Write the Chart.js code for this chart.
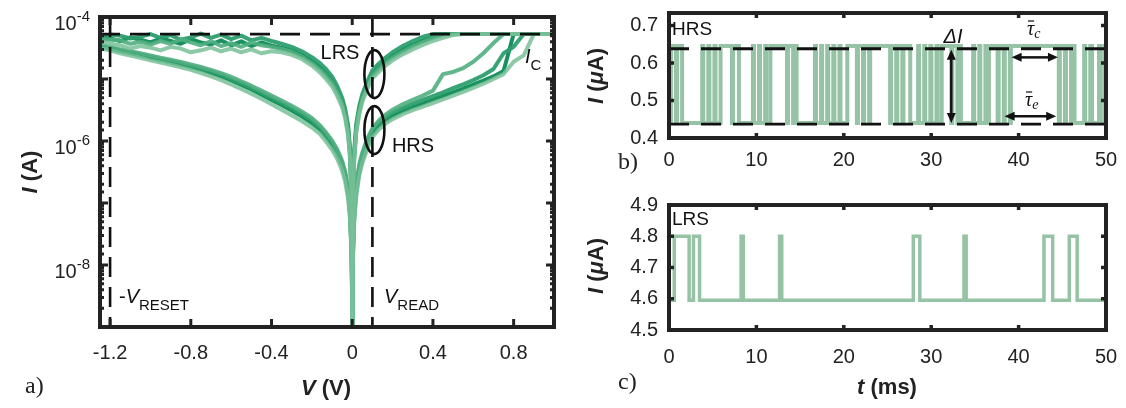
<!DOCTYPE html>
<html><head><meta charset="utf-8">
<script src="https://cdn.jsdelivr.net/npm/chart.js@4.4.1/dist/chart.umd.min.js"></script>
<style>
html,body{margin:0;padding:0;background:#fff;}
body{width:1126px;height:408px;position:relative;overflow:hidden;}
canvas{position:absolute;display:block;}
</style></head>
<body>
<canvas id="ca" width="560" height="408" style="left:0;top:0"></canvas>
<canvas id="cb" width="566" height="200" style="left:560px;top:0"></canvas>
<canvas id="cc" width="566" height="218" style="left:560px;top:190px"></canvas>
<script>
// ---------------- DATA ----------------
const xTicksA = [-1.2, -0.8, -0.4, 0, 0.4, 0.8];
const yLabelExpA = [-4, -6, -8];
const IC = 5.3e-5;
const vRead = 0.1, vReset = -1.2;

const vPos = [0, 0.001, 0.003, 0.01, 0.02, 0.035, 0.05, 0.075, 0.1, 0.13, 0.16, 0.2, 0.25, 0.3, 0.35, 0.4, 0.45, 0.5, 0.55, 0.6, 0.65, 0.7, 0.75, 0.8, 0.85, 0.9, 0.95, 1.0];
const vNeg = [0, -0.001, -0.003, -0.01, -0.02, -0.035, -0.05, -0.075, -0.1, -0.13, -0.16, -0.2, -0.25, -0.3, -0.35, -0.4, -0.45, -0.5, -0.55, -0.6, -0.65, -0.7, -0.75, -0.8, -0.85, -0.9, -0.95, -1.0, -1.05, -1.1, -1.15, -1.2, -1.25];

// set sweeps (HRS, 0 -> +1 V)
const setUp1 = [1e-9, 3e-9, 1e-8, 6e-8, 1.5e-7, 3.2e-7, 5e-7, 8.5e-7, 1.3e-6, 1.7e-6, 2.05e-6, 2.5e-6, 3.0e-6, 3.5e-6, 4.0e-6, 4.6e-6, 5.3e-6, 6.1e-6, 7.0e-6, 8.1e-6, 9.4e-6, 1.1e-5, 1.35e-5, 5.3e-5, 5.3e-5, 5.3e-5, 5.3e-5, 5.3e-5];
const setUp2 = [1e-9, 3.5e-9, 1.2e-8, 7e-8, 1.8e-7, 3.8e-7, 6e-7, 1e-6, 1.5e-6, 1.95e-6, 2.35e-6, 2.9e-6, 3.4e-6, 4.0e-6, 4.6e-6, 5.3e-6, 6.1e-6, 7.1e-6, 8.2e-6, 9.6e-6, 1.15e-5, 1.45e-5, 2.6e-5, 3.3e-5, 5.3e-5, 5.3e-5, 5.3e-5, 5.3e-5];
const setUp3 = [1e-9, 2.5e-9, 9e-9, 5e-8, 1.3e-7, 2.8e-7, 4.4e-7, 7.5e-7, 1.15e-6, 1.5e-6, 1.85e-6, 2.25e-6, 2.7e-6, 3.15e-6, 3.6e-6, 4.1e-6, 4.7e-6, 5.4e-6, 6.2e-6, 7.2e-6, 8.4e-6, 1.0e-5, 1.2e-5, 1.9e-5, 2.4e-5, 5.3e-5, 5.3e-5, 5.3e-5];
const setUp4 = [1e-9, 4e-9, 1.4e-8, 8e-8, 2e-7, 4.2e-7, 6.5e-7, 1.1e-6, 1.6e-6, 2.1e-6, 2.6e-6, 3.2e-6, 3.9e-6, 4.6e-6, 5.4e-6, 6.5e-6, 1.2e-5, 1.3e-5, 1.5e-5, 1.9e-5, 2.6e-5, 3.8e-5, 5.3e-5, 5.3e-5, 5.3e-5, 5.3e-5, 5.3e-5, 5.3e-5];
// LRS return (+1 V -> 0)
const lrsPos1 = [1e-9, 2e-8, 1e-7, 6e-7, 1.6e-6, 3.2e-6, 5e-6, 8e-6, 1.2e-5, 1.5e-5, 1.85e-5, 2.35e-5, 2.95e-5, 3.55e-5, 4.15e-5, 4.75e-5, 5.3e-5, 5.3e-5, 5.3e-5, 5.3e-5, 5.3e-5, 5.3e-5, 5.3e-5, 5.3e-5, 5.3e-5, 5.3e-5, 5.3e-5, 5.3e-5];
const lrsPos2 = [1e-9, 1.6e-8, 8e-8, 5e-7, 1.35e-6, 2.7e-6, 4.3e-6, 6.9e-6, 1.02e-5, 1.28e-5, 1.6e-5, 2.0e-5, 2.5e-5, 3.0e-5, 3.55e-5, 4.1e-5, 4.6e-5, 5.1e-5, 5.3e-5, 5.3e-5, 5.3e-5, 5.3e-5, 5.3e-5, 5.3e-5, 5.3e-5, 5.3e-5, 5.3e-5, 5.3e-5];
const lrsPos3 = [1e-9, 2.5e-8, 1.2e-7, 7e-7, 1.9e-6, 3.7e-6, 5.7e-6, 9.2e-6, 1.38e-5, 1.75e-5, 2.15e-5, 2.7e-5, 3.4e-5, 4.1e-5, 4.8e-5, 5.3e-5, 5.3e-5, 5.3e-5, 5.3e-5, 5.3e-5, 5.3e-5, 5.3e-5, 5.3e-5, 5.3e-5, 5.3e-5, 5.3e-5, 5.3e-5, 5.3e-5];
const lrsPos4 = [1e-9, 1.8e-8, 9e-8, 5.5e-7, 1.5e-6, 3.0e-6, 4.7e-6, 7.5e-6, 1.12e-5, 1.42e-5, 1.75e-5, 2.2e-5, 2.75e-5, 3.35e-5, 3.95e-5, 4.55e-5, 5.1e-5, 5.3e-5, 5.3e-5, 5.3e-5, 5.3e-5, 5.3e-5, 5.3e-5, 5.3e-5, 5.3e-5, 5.3e-5, 5.3e-5, 5.3e-5];
// reset sweeps (LRS, 0 -> -1.25 V)
const reset1 = [1e-9, 2e-8, 1e-7, 6e-7, 1.5e-6, 2.9e-6, 4.4e-6, 6.8e-6, 9.5e-6, 1.25e-5, 1.55e-5, 1.95e-5, 2.45e-5, 2.9e-5, 3.2e-5, 3.45e-5, 3.9e-5, 3.4e-5, 4.05e-5, 3.5e-5, 4.2e-5, 3.6e-5, 3.9e-5, 4.4e-5, 3.7e-5, 4.1e-5, 4.5e-5, 3.9e-5, 4.3e-5, 4.7e-5, 4.1e-5, 4.5e-5, 4.6e-5];
const reset2 = [1e-9, 1.6e-8, 8e-8, 4.8e-7, 1.2e-6, 2.3e-6, 3.5e-6, 5.4e-6, 7.6e-6, 1.0e-5, 1.28e-5, 1.65e-5, 2.1e-5, 2.45e-5, 2.7e-5, 2.8e-5, 2.6e-5, 3.0e-5, 2.7e-5, 3.1e-5, 2.8e-5, 3.2e-5, 2.9e-5, 2.7e-5, 3.1e-5, 3.3e-5, 2.9e-5, 3.2e-5, 3.4e-5, 3.1e-5, 3.5e-5, 3.7e-5, 3.9e-5];
const reset3 = [1e-9, 2.4e-8, 1.2e-7, 7e-7, 1.75e-6, 3.3e-6, 5e-6, 7.8e-6, 1.1e-5, 1.45e-5, 1.8e-5, 2.25e-5, 2.8e-5, 3.3e-5, 3.7e-5, 4.1e-5, 4.6e-5, 4.2e-5, 5.0e-5, 4.4e-5, 5.2e-5, 4.6e-5, 5.4e-5, 4.7e-5, 4.3e-5, 5.1e-5, 4.6e-5, 5.3e-5, 4.8e-5, 4.5e-5, 5.0e-5, 5.2e-5, 4.9e-5];
const reset4 = [1e-9, 1.8e-8, 9e-8, 5.4e-7, 1.35e-6, 2.6e-6, 4e-6, 6.1e-6, 8.6e-6, 1.12e-5, 1.42e-5, 1.8e-5, 2.3e-5, 2.75e-5, 3.05e-5, 3.3e-5, 3.5e-5, 3.9e-5, 3.3e-5, 3.8e-5, 3.4e-5, 4.1e-5, 3.5e-5, 3.9e-5, 4.4e-5, 3.7e-5, 4.1e-5, 3.6e-5, 4.0e-5, 3.7e-5, 4.2e-5, 4.3e-5, 4.4e-5];
// HRS return (-1.25 V -> 0)
const return1 = [1e-9, 4e-9, 1.4e-8, 6e-8, 1.4e-7, 2.7e-7, 4e-7, 6.2e-7, 8.5e-7, 1.15e-6, 1.5e-6, 1.95e-6, 2.5e-6, 3.1e-6, 3.8e-6, 4.6e-6, 5.6e-6, 6.8e-6, 8e-6, 9.5e-6, 1.1e-5, 1.25e-5, 1.4e-5, 1.55e-5, 1.7e-5, 1.85e-5, 2.0e-5, 2.2e-5, 2.4e-5, 2.6e-5, 2.8e-5, 3.1e-5, 3.3e-5];
const return2 = [1e-9, 5e-9, 1.7e-8, 7.2e-8, 1.7e-7, 3.2e-7, 4.8e-7, 7.4e-7, 1.02e-6, 1.38e-6, 1.8e-6, 2.35e-6, 3.0e-6, 3.7e-6, 4.5e-6, 5.4e-6, 6.5e-6, 7.8e-6, 9.2e-6, 1.08e-5, 1.24e-5, 1.4e-5, 1.56e-5, 1.72e-5, 1.88e-5, 2.05e-5, 2.2e-5, 2.4e-5, 2.6e-5, 2.8e-5, 3.0e-5, 3.3e-5, 3.5e-5];
const return3 = [1e-9, 3.5e-9, 1.2e-8, 5e-8, 1.15e-7, 2.2e-7, 3.3e-7, 5.2e-7, 7.2e-7, 9.8e-7, 1.3e-6, 1.65e-6, 2.1e-6, 2.6e-6, 3.2e-6, 3.9e-6, 4.8e-6, 5.8e-6, 6.9e-6, 8.2e-6, 9.6e-6, 1.1e-5, 1.25e-5, 1.4e-5, 1.55e-5, 1.7e-5, 1.85e-5, 2.0e-5, 2.2e-5, 2.4e-5, 2.6e-5, 2.9e-5, 3.1e-5];
const return4 = [1e-9, 4.5e-9, 1.5e-8, 6.6e-8, 1.55e-7, 3e-7, 4.4e-7, 6.8e-7, 9.4e-7, 1.27e-6, 1.65e-6, 2.15e-6, 2.75e-6, 3.4e-6, 4.15e-6, 5e-6, 6e-6, 7.2e-6, 8.6e-6, 1.0e-5, 1.17e-5, 1.33e-5, 1.48e-5, 1.63e-5, 1.8e-5, 1.95e-5, 2.1e-5, 2.3e-5, 2.5e-5, 2.7e-5, 2.9e-5, 3.2e-5, 3.4e-5];

// panel b / c
const tTicks = [0, 10, 20, 30, 40, 50];
const yTicksB = [0.4, 0.5, 0.6, 0.7];
const yTicksC = [4.5, 4.6, 4.7, 4.8, 4.9];
const hrsHigh = 0.645, hrsLow = 0.44, hrsRefHigh = 0.638, hrsRefLow = 0.437;
const hrsSwitch = [
 0.1,0.22, 0.8,0.92, 1.5,
 3.8,3.92, 4.5,4.62, 5.2,5.32, 5.9,
 7.2,7.32, 8.0,
 9.6,9.72, 10.3,10.42, 11.0,11.12, 11.6,
 13.5,13.62, 14.2,14.32, 14.6,
 16.7,16.82, 17.4,17.52, 18.1,18.22, 18.8,18.92, 19.5,19.62, 20.4,
 21.5,21.62, 22.2,22.32, 22.9,23.02,
 25.3,25.42, 26.0,26.12, 26.7,26.82, 27.6,
 28.5,28.62, 29.2,29.32, 29.9,30.02, 30.6,30.72, 31.2,
 32.3,32.42, 33.0,33.12, 33.4,
 34.8,34.92, 35.5,35.62, 36.2,36.32, 36.6,
 37.6,37.72, 38.3,38.42, 39.0,39.12,
 44.6,44.72, 45.3,45.42, 46.0,46.12, 46.4,
 47.5,47.62, 48.2,48.4,
 49.2,49.32, 49.8];
const lrsHigh = 4.8, lrsLow = 4.595;
const lrsSwitch = [0.6, 2.3, 2.8, 3.5, 8.25, 8.5, 12.65, 12.9, 27.95, 28.7, 33.75, 34.0, 42.9, 43.9, 45.8, 46.7];

// ---------------- HELPERS ----------------
const SANS = "'Liberation Sans', Arial, Helvetica, sans-serif";
const SERIF = "'Liberation Serif', 'Times New Roman', serif";
const INK = '#222';
function pts(xs, ys){ return xs.map((v,i)=>({x:v, y:ys[i]})); }
function telegraph(sw, lo, hi, startHigh, tEnd){
  let lvl = startHigh ? hi : lo; const p=[{x:0,y:lvl}];
  for (const t of sw){ p.push({x:t,y:lvl}); lvl = (lvl===hi)?lo:hi; p.push({x:t,y:lvl}); }
  p.push({x:tEnd,y:lvl}); return p;
}
function rich(ctx, parts, x, y, align){
  let w=0; for (const p of parts){ ctx.font=p[1]; w+=ctx.measureText(p[0]).width; }
  let cx = align==='center' ? x-w/2 : (align==='right' ? x-w : x);
  ctx.textAlign='left'; ctx.textBaseline='alphabetic';
  for (const p of parts){ ctx.font=p[1]; ctx.fillText(p[0], cx, y+(p[2]||0)); cx+=ctx.measureText(p[0]).width; }
}
function arrowHead(ctx, x, y, ang, L, W){
  ctx.save(); ctx.translate(x,y); ctx.rotate(ang);
  ctx.beginPath(); ctx.moveTo(0,0); ctx.lineTo(-L, W/2); ctx.lineTo(-L,-W/2); ctx.closePath(); ctx.fill(); ctx.restore();
}
function dblArrow(ctx, x1,y1,x2,y2){
  const ang=Math.atan2(y2-y1,x2-x1), L=10, W=9;
  ctx.beginPath(); ctx.moveTo(x1+Math.cos(ang)*L*0.8, y1+Math.sin(ang)*L*0.8);
  ctx.lineTo(x2-Math.cos(ang)*L*0.8, y2-Math.sin(ang)*L*0.8); ctx.stroke();
  arrowHead(ctx,x2,y2,ang,L,W); arrowHead(ctx,x1,y1,ang+Math.PI,L,W);
}
function framePlugin(opt){
  return {
    id:'frame'+Math.random().toString(36).slice(2),
    afterDatasetsDraw(chart){
      const ctx=chart.ctx, a=chart.chartArea, xs=chart.scales.x, ys=chart.scales.y;
      ctx.save();
      if (opt.annot) opt.annot(chart, ctx, xs, ys, a);
      ctx.setLineDash([]); ctx.strokeStyle=INK; ctx.fillStyle=INK;
      ctx.lineWidth=opt.tickW;
      ctx.beginPath();
      for (const t of xs.ticks){ const p=xs.getPixelForValue(t.value);
        ctx.moveTo(p,a.bottom); ctx.lineTo(p,a.bottom-opt.tickL);
        ctx.moveTo(p,a.top); ctx.lineTo(p,a.top+opt.tickL); }
      for (const t of ys.ticks){ const p=ys.getPixelForValue(t.value);
        let L=opt.tickL;
        if (opt.log){ const e=Math.log10(t.value); L = Math.abs(e-Math.round(e))<1e-6 ? opt.tickL : opt.minorL; }
        ctx.moveTo(a.left,p); ctx.lineTo(a.left+L,p);
        ctx.moveTo(a.right,p); ctx.lineTo(a.right-L,p); }
      ctx.stroke();
      ctx.lineWidth=opt.frameW; ctx.strokeRect(a.left,a.top,a.right-a.left,a.bottom-a.top);
      if (opt.text) opt.text(chart, ctx, xs, ys, a);
      ctx.restore();
    }
  };
}
function zeroPad(s){ s.paddingTop=0; s.paddingBottom=0; s.paddingLeft=0; s.paddingRight=0; }

// ---------------- PANEL A ----------------
const cycleColors = ['rgba(120,192,152,0.85)','rgba(80,174,128,0.9)','rgba(45,158,110,0.95)','rgba(24,145,96,1)'];
const cycles = [
  [setUp3, lrsPos2, reset2, return3],
  [setUp4, lrsPos4, reset4, return2],
  [setUp2, lrsPos3, reset3, return4],
  [setUp1, lrsPos1, reset1, return1]
];
const dsA = [];
cycles.forEach((c,k)=>{
  const col = cycleColors[k];
  [[vPos,c[0]],[vPos,c[1]],[vNeg,c[2]],[vNeg,c[3]]].forEach(([xs,ys])=>{
    dsA.push({data:pts(xs,ys), showLine:true, borderColor:col, borderWidth:4, pointRadius:0, tension:0, borderJoinStyle:'round', borderCapStyle:'round'});
  });
});

new Chart(document.getElementById('ca'), {
  type:'scatter',
  data:{datasets:dsA},
  options:{
    responsive:false, animation:false, events:[],
    layout:{padding:{left:0,right:6,top:17,bottom:0}},
    plugins:{legend:{display:false}, tooltip:{enabled:false}},
    scales:{
      x:{type:'linear', min:-1.25, max:1.0,
        grid:{display:false, drawTicks:false}, border:{display:false},
        afterBuildTicks(s){ s.ticks = xTicksA.map(v=>({value:v})); },
        ticks:{font:{family:SANS,size:20}, color:INK, padding:14, maxRotation:0, autoSkip:false,
          callback:(v)=> v===0 ? '0' : v.toFixed(1)},
        afterFit(s){ s.height=81; zeroPad(s); }},
      y:{type:'logarithmic', min:1e-9, max:1e-4,
        grid:{display:false, drawTicks:false}, border:{display:false},
        ticks:{display:false},
        afterFit(s){ s.width=100; zeroPad(s); }}
    }
  },
  plugins:[framePlugin({tickW:3, tickL:8, minorL:4, frameW:4, log:true,
    annot(chart, ctx, xs, ys, a){
      ctx.strokeStyle='#111'; ctx.lineWidth=2.6; ctx.setLineDash([20,10]);
      ctx.beginPath();
      const yi=ys.getPixelForValue(IC); ctx.moveTo(a.left,yi); ctx.lineTo(a.right,yi);
      const xr=xs.getPixelForValue(vReset); ctx.moveTo(xr,a.top); ctx.lineTo(xr,a.bottom);
      const xv=xs.getPixelForValue(vRead); ctx.moveTo(xv,a.top); ctx.lineTo(xv,a.bottom);
      ctx.stroke();
      ctx.setLineDash([]); ctx.lineWidth=2.6;
      ctx.beginPath(); ctx.ellipse(xv+2, ys.getPixelForValue(1.2e-5), 10, 24, 0, 0, Math.PI*2); ctx.stroke();
      ctx.beginPath(); ctx.ellipse(xv+2, ys.getPixelForValue(1.5e-6), 10, 24, 0, 0, Math.PI*2); ctx.stroke();
    },
    text(chart, ctx, xs, ys, a){
      ctx.fillStyle='#111';
      rich(ctx, [['LRS', `20px ${SANS}`]], 340, 59, 'center');
      rich(ctx, [['HRS', `20px ${SANS}`]], 413, 152, 'center');
      rich(ctx, [['I', `italic 20px ${SANS}`],['C', `15px ${SANS}`, 7]], 525, 63, 'left');
      rich(ctx, [['-', `20px ${SANS}`],['V', `italic 20px ${SANS}`],['RESET', `15px ${SANS}`, 7]], 119, 303, 'left');
      rich(ctx, [['V', `italic 20px ${SANS}`],['READ', `15px ${SANS}`, 7]], 384, 303, 'left');
      ctx.fillStyle=INK;
      for (const e of yLabelExpA){
        const p=ys.getPixelForValue(Math.pow(10,e));
        rich(ctx, [['10', `20px ${SANS}`, 0],['-'+Math.abs(e), `15px ${SANS}`, -9]], 90, p+13, 'right');
      }
      ctx.save(); ctx.translate(29,172); ctx.rotate(-Math.PI/2);
      rich(ctx, [['I', `italic bold 22px ${SANS}`],[' (A)', `bold 22px ${SANS}`]], 0, 8, 'center');
      ctx.restore();
      rich(ctx, [['V', `italic bold 22px ${SANS}`],[' (V)', `bold 22px ${SANS}`]], 326, 395, 'center');
      rich(ctx, [['a)', `24px ${SERIF}`]], 25, 393, 'left');
    }
  })]
});

// ---------------- PANEL B ----------------
const greenB = 'rgb(150,195,166)';
function timeOpts(padTop, xh, yTicks, ymin, ymax, tickPadX){
  return {
    responsive:false, animation:false, events:[],
    layout:{padding:{left:0,right:20,top:padTop,bottom:0}},
    plugins:{legend:{display:false}, tooltip:{enabled:false}},
    scales:{
      x:{type:'linear', min:0, max:50, grid:{display:false, drawTicks:false}, border:{display:false},
        afterBuildTicks(s){ s.ticks = tTicks.map(v=>({value:v})); },
        ticks:{font:{family:SANS,size:20}, color:INK, padding:tickPadX, maxRotation:0, autoSkip:false},
        afterFit(s){ s.height=xh; zeroPad(s); }},
      y:{type:'linear', min:ymin, max:ymax, grid:{display:false, drawTicks:false}, border:{display:false},
        afterBuildTicks(s){ s.ticks = yTicks.map(v=>({value:v})); },
        ticks:{font:{family:SANS,size:20}, color:INK, padding:11, autoSkip:false, callback:(v)=>v.toFixed(1)},
        afterFit(s){ s.width=109; zeroPad(s); }}
    }
  };
}
new Chart(document.getElementById('cb'), {
  type:'scatter',
  data:{datasets:[{data:telegraph(hrsSwitch, hrsLow, hrsHigh, true, 50), showLine:true, borderColor:greenB, borderWidth:4, pointRadius:0, tension:0}]},
  options:timeOpts(13, 62, yTicksB, 0.4, 0.7333, 10),
  plugins:[framePlugin({tickW:3.5, tickL:5, frameW:4,
    annot(chart, ctx, xs, ys, a){
      ctx.strokeStyle='#111'; ctx.lineWidth=2.8; ctx.setLineDash([20,12]);
      ctx.beginPath();
      for (const v of [hrsRefHigh, hrsRefLow]){ const p=ys.getPixelForValue(v); ctx.moveTo(a.left,p); ctx.lineTo(a.right,p); }
      ctx.stroke(); ctx.setLineDash([]);
      ctx.fillStyle='#111'; ctx.lineWidth=2.5;
      const xd=xs.getPixelForValue(32.3);
      dblArrow(ctx, xd, ys.getPixelForValue(hrsRefHigh)+1, xd, ys.getPixelForValue(hrsRefLow)-1);
      dblArrow(ctx, xs.getPixelForValue(39.2), ys.getPixelForValue(0.615), xs.getPixelForValue(44.5), ys.getPixelForValue(0.615));
      dblArrow(ctx, xs.getPixelForValue(38.4), ys.getPixelForValue(0.458), xs.getPixelForValue(44.3), ys.getPixelForValue(0.458));
    },
    text(chart, ctx, xs, ys, a){
      ctx.fillStyle='#111';
      rich(ctx, [['HRS', `19px ${SANS}`]], 112, 35, 'left');
      rich(ctx, [['Δ', `italic 20px ${SANS}`],['I', `italic 20px ${SANS}`]], 393, 43, 'center');
      function tau(cx, by, sub){
        ctx.font=`italic 20px ${SERIF}`; const w=ctx.measureText('τ').width;
        ctx.fillText('τ', cx, by);
        ctx.font=`italic 14px ${SERIF}`; ctx.fillText(sub, cx+w, by+3);
        ctx.lineWidth=1.2; ctx.beginPath(); ctx.moveTo(cx+1, by-14); ctx.lineTo(cx+w, by-14); ctx.stroke();
      }
      ctx.strokeStyle='#111'; ctx.textAlign='left'; ctx.textBaseline='alphabetic';
      tau(467, 35, 'c');
      tau(465, 106, 'e');
      ctx.fillStyle=INK;
      ctx.save(); ctx.translate(35,76); ctx.rotate(-Math.PI/2);
      rich(ctx, [['I', `italic bold 22px ${SANS}`],[' (', `bold 22px ${SANS}`],['μ', `italic bold 22px ${SANS}`],['A)', `bold 22px ${SANS}`]], 0, 8, 'center');
      ctx.restore();
      rich(ctx, [['b)', `24px ${SERIF}`]], 58, 169, 'left');
    }
  })]
});

// ---------------- PANEL C ----------------
new Chart(document.getElementById('cc'), {
  type:'scatter',
  data:{datasets:[{data:telegraph(lrsSwitch, lrsLow, lrsHigh, false, 50), showLine:true, borderColor:greenB, borderWidth:3.5, pointRadius:0, tension:0}]},
  options:timeOpts(15, 78, yTicksC, 4.5, 4.9, 15),
  plugins:[framePlugin({tickW:3.5, tickL:5, frameW:4,
    text(chart, ctx, xs, ys, a){
      ctx.fillStyle='#111';
      rich(ctx, [['LRS', `19px ${SANS}`]], 112, 35, 'left');
      ctx.fillStyle=INK;
      ctx.save(); ctx.translate(35,76); ctx.rotate(-Math.PI/2);
      rich(ctx, [['I', `italic bold 22px ${SANS}`],[' (', `bold 22px ${SANS}`],['μ', `italic bold 22px ${SANS}`],['A)', `bold 22px ${SANS}`]], 0, 8, 'center');
      ctx.restore();
      rich(ctx, [['t', `italic bold 22px ${SANS}`],[' (ms)', `bold 22px ${SANS}`]], 327, 204, 'center');
      rich(ctx, [['c)', `24px ${SERIF}`]], 58, 199, 'left');
    }
  })]
});
</script>
</body></html>
